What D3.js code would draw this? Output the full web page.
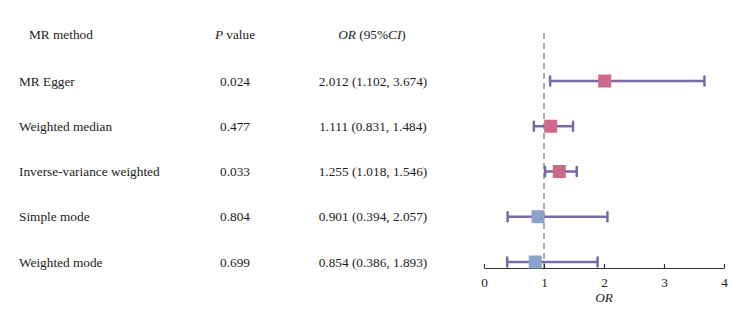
<!DOCTYPE html>
<html>
<head>
<meta charset="utf-8">
<script src="https://cdn.jsdelivr.net/npm/d3@7"></script>
<style>
  body { margin: 0; background: #fff; }
  text { font-family: "Liberation Serif", serif; fill: #222; }
</style>
</head>
<body>
<svg id="chart" width="743" height="311"></svg>
<script>
const methods = ["MR Egger", "Weighted median", "Inverse-variance weighted", "Simple mode", "Weighted mode"];
const pValues = ["0.024", "0.477", "0.033", "0.804", "0.699"];
const orValues = [2.012, 1.111, 1.255, 0.901, 0.854];
const lowerCI = [1.102, 0.831, 1.018, 0.394, 0.386];
const upperCI = [3.674, 1.484, 1.546, 2.057, 1.893];
const xTicks = [0, 1, 2, 3, 4];

const svg = d3.select("#chart");
const fmt = d3.format(".3f");
const fs = "13.3px";

const x = d3.scaleLinear().domain([0, 4]).range([484, 724]);
const y = d3.scalePoint().domain(methods).range([81, 262]);
const axisY = 268;

// header
const headY = 39;
svg.append("text").attr("x", 29).attr("y", headY).attr("font-size", fs).text("MR method");
const ph = svg.append("text").attr("x", 235).attr("y", headY).attr("font-size", fs).attr("text-anchor", "middle");
ph.append("tspan").attr("font-style", "italic").text("P");
ph.append("tspan").text(" value");
const oh = svg.append("text").attr("x", 372).attr("y", headY).attr("font-size", fs).attr("text-anchor", "middle");
oh.append("tspan").attr("font-style", "italic").text("OR");
oh.append("tspan").text(" (95%");
oh.append("tspan").attr("font-style", "italic").text("CI");
oh.append("tspan").text(")");

// table rows
const rows = svg.append("g").selectAll("g").data(methods).join("g")
  .attr("transform", d => `translate(0, ${y(d) + 4.5})`)
  .attr("font-size", fs);
rows.append("text").attr("x", 19).attr("font-size", fs).text(d => d);
rows.append("text").attr("x", 235).attr("font-size", fs).attr("text-anchor", "middle").text((d, i) => pValues[i]);
rows.append("text").attr("x", 373).attr("font-size", fs).attr("text-anchor", "middle")
  .text((d, i) => `${fmt(orValues[i])} (${fmt(lowerCI[i])}, ${fmt(upperCI[i])})`);

// reference line at OR = 1
svg.append("line")
  .attr("x1", x(1)).attr("x2", x(1))
  .attr("y1", 33).attr("y2", axisY)
  .attr("stroke", "#aaa").attr("stroke-width", 2)
  .attr("stroke-dasharray", "6,4");

// axis
const axis = d3.axisBottom(x).tickValues(xTicks).tickFormat(d3.format("d"))
  .tickSizeInner(-4).tickSizeOuter(0).tickPadding(10);
const ag = svg.append("g").attr("transform", `translate(0, ${axisY})`).call(axis);
ag.select(".domain").attr("stroke", "#333").attr("stroke-width", 1.2);
ag.selectAll(".tick line").attr("stroke", "#333").attr("stroke-width", 1.2);
ag.selectAll(".tick text").attr("font-size", fs).attr("fill", "#222");
svg.append("text").attr("x", x(2)).attr("y", 302).attr("font-size", fs)
  .attr("text-anchor", "middle").attr("font-style", "italic").text("OR");

// error bars
const lineColor = "#7a68a8";
const bars = svg.append("g").selectAll("g").data(methods).join("g");
bars.append("line")
  .attr("x1", (d, i) => x(lowerCI[i])).attr("x2", (d, i) => x(upperCI[i]))
  .attr("y1", d => y(d)).attr("y2", d => y(d))
  .attr("stroke", lineColor).attr("stroke-width", 2.5);
bars.append("line")
  .attr("x1", (d, i) => x(lowerCI[i])).attr("x2", (d, i) => x(lowerCI[i]))
  .attr("y1", d => y(d) - 4.5).attr("y2", d => y(d) + 4.5)
  .attr("stroke", lineColor).attr("stroke-width", 2.5).attr("stroke-linecap", "round");
bars.append("line")
  .attr("x1", (d, i) => x(upperCI[i])).attr("x2", (d, i) => x(upperCI[i]))
  .attr("y1", d => y(d) - 4.5).attr("y2", d => y(d) + 4.5)
  .attr("stroke", lineColor).attr("stroke-width", 2.5).attr("stroke-linecap", "round");

const sq = 13;
bars.append("rect")
  .attr("x", (d, i) => x(orValues[i]) - sq / 2)
  .attr("y", d => y(d) - sq / 2)
  .attr("width", sq).attr("height", sq)
  .attr("fill", (d, i) => orValues[i] > 1 ? "#cd6a8b" : "#8aa3c9");
</script>
</body>
</html>
